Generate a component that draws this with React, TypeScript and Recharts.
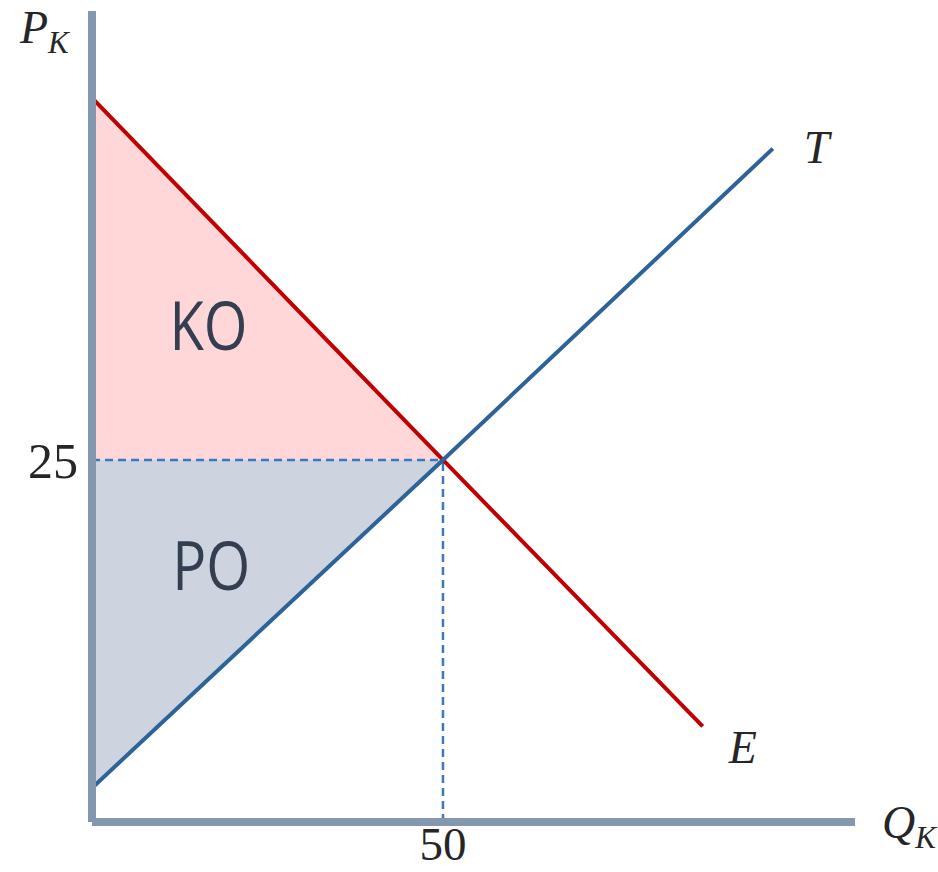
import {
  ComposedChart,
  Area,
  Line,
  XAxis,
  YAxis,
  ReferenceLine,
  ReferenceDot,
} from "recharts";

const quantities = [0, 50, 87, 97];
const demandPrice = [50, 25, 6.6, null];
const supplyPrice = [2.35, 25, null, 46.5];
const eqQuantity = 50;
const eqPrice = 25;
const xTicks = [50];
const yTicks = [25];

const rows = quantities.map((q, i) => ({
  q,
  demand: demandPrice[i] ?? undefined,
  supply: supplyPrice[i] ?? undefined,
  ko: q <= eqQuantity ? [eqPrice, demandPrice[i]] : undefined,
  po: q <= eqQuantity ? [supplyPrice[i], eqPrice] : undefined,
}));

const AXIS = "#8497b0";
const RED = "#c00000";
const BLUE = "#2d6399";
const DASH = "#3b79be";
const INK = "#262626";
const SERIF = "'Liberation Serif', serif";

const mathLabel =
  (main: string, sub: string | null, dx: number, dy: number) =>
  (props: any) => {
    const vb = props.viewBox || {};
    return (
      <text
        x={vb.x + dx}
        y={vb.y + dy}
        fontFamily={SERIF}
        fontStyle="italic"
        fontSize={46}
        fill={INK}
      >
        {main}
        {sub && (
          <tspan fontSize={31} dy={10}>
            {sub}
          </tspan>
        )}
      </text>
    );
  };

const areaLabel = (txt: string) => (props: any) => {
  const vb = props.viewBox || {};
  return (
    <text
      x={vb.x}
      y={vb.y}
      textAnchor="middle"
      fontFamily="'Open Sans', sans-serif"
      fontSize={67}
      textLength={78}
      lengthAdjust="spacingAndGlyphs"
      fill="#333f50"
    >
      {txt}
    </text>
  );
};

export default function App() {
  return (
    <div style={{ position: "absolute", left: 0, top: 0 }}>
      <ComposedChart
        width={938}
        height={872}
        data={rows}
        margin={{ top: 11, right: 83, bottom: 0, left: 0 }}
      >
        <XAxis
          dataKey="q"
          type="number"
          domain={[0, 108.7]}
          ticks={xTicks}
          height={50}
          tickSize={0}
          tickMargin={5}
          tickLine={false}
          axisLine={{ stroke: AXIS, strokeWidth: 8 }}
          tick={{ fill: INK, fontSize: 47, fontFamily: SERIF }}
          label={mathLabel("Q", "K", 790, 16)}
        />
        <YAxis
          type="number"
          domain={[0, 56]}
          ticks={yTicks}
          width={92}
          tickSize={0}
          tickMargin={14}
          tickLine={false}
          axisLine={{ stroke: AXIS, strokeWidth: 8 }}
          tick={{ fill: INK, fontSize: 50, fontFamily: SERIF }}
          label={mathLabel("P", "K", 20, 32)}
        />

        <Area
          type="linear"
          dataKey="ko"
          stroke="none"
          fill="#ffd7d8"
          fillOpacity={1}
          isAnimationActive={false}
        />
        <Area
          type="linear"
          dataKey="po"
          stroke="none"
          fill="#cdd4df"
          fillOpacity={1}
          isAnimationActive={false}
        />

        <ReferenceLine
          segment={[
            { x: 0, y: eqPrice },
            { x: eqQuantity, y: eqPrice },
          ]}
          stroke={DASH}
          strokeWidth={2.5}
          strokeDasharray="8 5"
        />
        <ReferenceLine
          segment={[
            { x: eqQuantity, y: 0 },
            { x: eqQuantity, y: eqPrice },
          ]}
          stroke={DASH}
          strokeWidth={2.5}
          strokeDasharray="8 5"
        />

        <Line
          type="linear"
          dataKey="demand"
          stroke={RED}
          strokeWidth={4}
          dot={false}
          activeDot={false}
          connectNulls
          isAnimationActive={false}
        />
        <Line
          type="linear"
          dataKey="supply"
          stroke={BLUE}
          strokeWidth={4}
          dot={false}
          activeDot={false}
          connectNulls
          isAnimationActive={false}
        />

        <ReferenceDot
          x={97}
          y={46.5}
          r={0}
          ifOverflow="visible"
          label={mathLabel("T", null, 31, 14)}
        />
        <ReferenceDot
          x={87}
          y={6.6}
          r={0}
          ifOverflow="visible"
          label={mathLabel("E", null, 26, 37)}
        />
        <ReferenceDot
          x={16.6}
          y={32.6}
          r={0}
          ifOverflow="visible"
          label={areaLabel("KO")}
        />
        <ReferenceDot
          x={17}
          y={16}
          r={0}
          ifOverflow="visible"
          label={areaLabel("PO")}
        />
      </ComposedChart>
    </div>
  );
}
